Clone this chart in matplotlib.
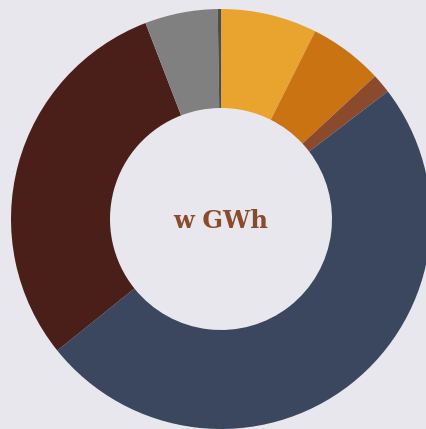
import matplotlib
matplotlib.use("Agg")
import matplotlib.pyplot as plt

labels = ["A", "B", "C", "D", "E", "F", "G"]
values = [7.4, 5.7, 1.5, 49.6, 29.9, 5.6, 0.25]
colors = ["#E8A42E", "#C97312", "#8C4A2C", "#3B475E", "#4A1F19", "#808080", "#4D4D4D"]
center_label = "w GWh"

W, H = 426, 429
fig = plt.figure(figsize=(W / 100, H / 100), dpi=100, facecolor="#E8E7ED")
ax = fig.add_axes([0, 0, 1, 1])
ax.set_facecolor("#E8E7ED")
cx, cy = 221, 219

R = 210
r_in = 111
ax.pie(values, colors=colors, radius=R, startangle=90, counterclock=False,
       wedgeprops=dict(width=R - r_in, linewidth=0), center=(0, 0), frame=True)
ax.set_xlim(-cx, W - cx)
ax.set_ylim(-(H - cy), cy)
ax.set_aspect("equal", adjustable="box")
ax.axis("off")

ax.text(0, -2, center_label, ha="center", va="center", fontsize=17.5,
        fontweight="bold", family="DejaVu Serif", color="#8C4A2C")

fig.savefig("out.png", dpi=100, facecolor=fig.get_facecolor())
